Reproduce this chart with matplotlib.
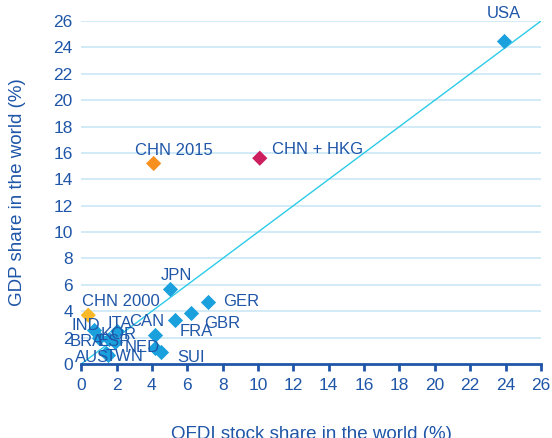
import matplotlib
matplotlib.use("Agg")
from matplotlib import pyplot as plt

# Data: OFDI stock share vs GDP share in the world (%)

countries = ["USA", "JPN", "GER", "GBR", "FRA", "CAN", "NED", "SUI",
             "IND", "ITA", "KOR", "BRA", "ESP", "AUS", "TWN"]
ofdi_share = [23.9, 5.0, 7.2, 6.2, 5.3, 4.2, 4.2, 4.5,
              0.7, 2.0, 1.6, 1.0, 1.9, 1.4, 1.5]
gdp_share = [24.5, 5.7, 4.7, 3.9, 3.3, 2.2, 1.2, 0.9,
             2.6, 2.5, 1.9, 2.0, 1.7, 0.8, 0.7]

china_labels = ["CHN 2000", "CHN 2015", "CHN + HKG"]
china_ofdi = [0.4, 4.1, 10.1]
china_gdp = [3.7, 15.2, 15.6]
china_colors = ["#fbb829", "#f7901e", "#cc1d5c"]

# label offsets in pixels (dx, dy) and horizontal alignment
label_offsets = {
    "USA": (0, 27, "center"), "JPN": (7, 13, "center"), "GER": (15, 0, "left"),
    "GBR": (13, -11, "left"), "FRA": (5, -11, "left"), "CAN": (-9, 13, "center"),
    "NED": (-13, 1, "center"), "SUI": (30, -5, "center"), "IND": (-8, 4, "center"),
    "ITA": (3, 8, "center"), "KOR": (9, 4, "center"), "BRA": (-12, -4, "center"),
    "ESP": (0, 0, "center"), "AUS": (-14, -4, "center"), "TWN": (17, -2, "center"),
    "CHN 2000": (-6, 14, "left"), "CHN 2015": (20, 13, "center"),
    "CHN + HKG": (12, 9, "left"),
}

text_color = "#1f56a8"
ticks = list(range(0, 27, 2))

plt.rcParams["font.family"] = ["Liberation Sans", "DejaVu Sans"]

fig = plt.figure(figsize=(5.52, 4.38), dpi=100)
ax = fig.add_axes([0.147, 0.169, 0.833, 0.783])

ax.set_xlim(0, 26)
ax.set_ylim(0, 26)
ax.set_xticks(ticks)
ax.set_yticks(ticks)

for y in ticks[1:]:
    ax.axhline(y, color="#c9e7f6", linewidth=1.2, zorder=0)

# 45-degree reference line
ax.plot([0, 26], [0, 26], color="#2ccbe8", linewidth=1.0, zorder=1)

ax.scatter(ofdi_share, gdp_share, marker="D", s=60, color="#1aa0dd", zorder=3, linewidths=0)
ax.scatter(china_ofdi, china_gdp, marker="D", s=60, color=china_colors, zorder=3, linewidths=0)

for name, x, y in list(zip(countries, ofdi_share, gdp_share)) + list(zip(china_labels, china_ofdi, china_gdp)):
    dx, dy, ha = label_offsets[name]
    ax.annotate(name, (x, y), xytext=(dx, dy), textcoords="offset pixels",
                ha=ha, va="center", fontsize=12, color=text_color, zorder=4)

for side in ["top", "right", "left"]:
    ax.spines[side].set_visible(False)
ax.spines["bottom"].set_color("#1f56a8")
ax.spines["bottom"].set_linewidth(2)

ax.tick_params(axis="x", colors=text_color, labelsize=12.5, length=5, width=2, pad=5)
ax.tick_params(axis="y", colors=text_color, labelsize=12.5, length=0, pad=6)

ax.set_xlabel("OFDI stock share in the world (%)", fontsize=13.5, color=text_color, labelpad=24)
ax.set_ylabel("GDP share in the world (%)", fontsize=13.5, color=text_color, labelpad=20)

fig.savefig("out.png", dpi=100)
